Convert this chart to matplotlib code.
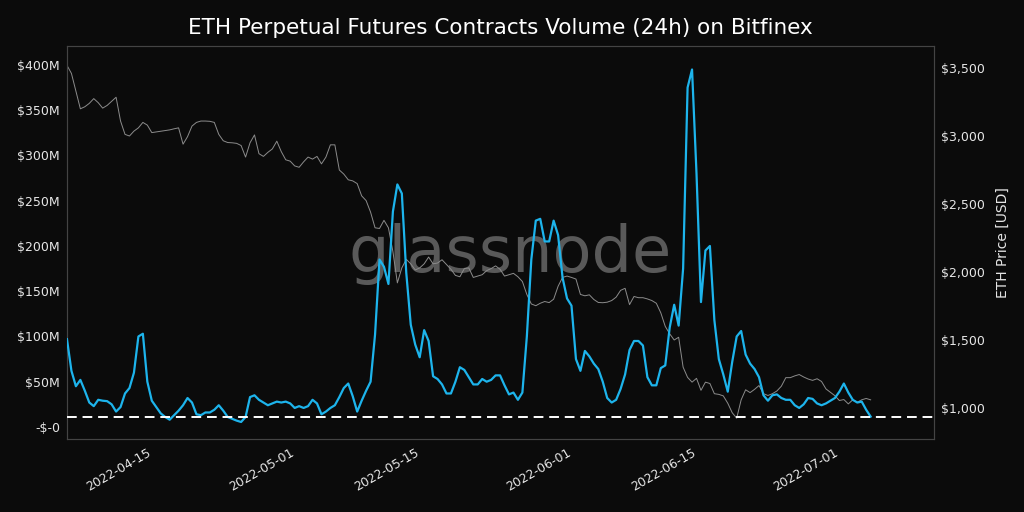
import matplotlib
matplotlib.use("Agg")
import matplotlib.pyplot as plt
import matplotlib.dates as mdates
from matplotlib.ticker import FuncFormatter, FixedLocator
import pandas as pd

# volume (USD millions) and ETH price, sampled every 12h from 2022-04-05 08:00
volume = [97, 62, 45, 52, 40, 27, 23, 30, 29, 28.5, 25, 17, 22, 37, 43, 60, 100, 103, 50, 29,
          22, 15, 11, 8, 13, 18, 24, 32, 27, 14, 13, 16, 16, 19, 24, 18, 11, 9, 7, 5.5,
          11, 33, 35, 30, 27, 24, 26, 28, 27, 28, 26, 21, 23, 21, 23, 30, 26, 14, 17, 21,
          24, 33, 43, 48, 34, 17, 29, 40, 50, 102, 185, 177, 158, 238, 268, 258, 170, 113, 91, 77,
          107, 95, 56, 53, 47, 37, 37, 50, 66, 63, 55, 47, 47, 53, 50, 52, 57, 57, 46, 36,
          38, 30, 38, 100, 185, 228, 230, 205, 205, 228, 212, 165, 142, 134, 75, 62, 84, 78, 70, 64,
          50, 32, 27, 30, 42, 58, 85, 95, 95, 90, 55, 46, 46, 65, 68, 110, 135, 112, 175, 375,
          395, 280, 138, 195, 200, 118, 75, 58, 39, 72, 100, 106, 80, 70, 64, 55, 35, 29, 35, 36,
          32, 30, 30, 24, 21, 25, 32, 31, 26, 24, 26, 29, 32, 39, 48, 38, 30, 27, 28, 19,
          11.4]
price = [3520, 3460, 3330, 3200, 3215, 3240, 3275, 3245, 3205, 3225, 3255, 3285, 3110, 3012, 3000, 3036, 3060, 3100, 3080, 3025,
         3030, 3035, 3040, 3045, 3053, 3060, 2940, 2995, 3073, 3100, 3110, 3110, 3108, 3100, 3012, 2965, 2952, 2950, 2946, 2930,
         2845, 2950, 3008, 2870, 2850, 2880, 2905, 2962, 2885, 2825, 2815, 2780, 2770, 2810, 2845, 2830, 2850, 2795, 2845, 2935,
         2935, 2750, 2720, 2678, 2670, 2650, 2560, 2525, 2440, 2325, 2320, 2380, 2325, 2150, 1920, 2030, 2093, 2060, 2015, 2030,
         2060, 2110, 2060, 2066, 2090, 2055, 2020, 1975, 1965, 2025, 2030, 1960, 1970, 1980, 2010, 2025, 2045, 2020, 1970, 1980,
         1990, 1965, 1930, 1835, 1765, 1752, 1770, 1783, 1775, 1800, 1895, 1960, 1970, 1960, 1948, 1835, 1825, 1832, 1798, 1776,
         1774, 1778, 1790, 1815, 1865, 1880, 1760, 1820, 1811, 1811, 1802, 1790, 1770, 1700, 1600, 1545, 1500, 1520, 1300, 1225,
         1190, 1218, 1130, 1190, 1180, 1105, 1100, 1089, 1035, 965, 925, 1060, 1134, 1113, 1137, 1165, 1105, 1092, 1105, 1125,
         1160, 1223, 1223, 1236, 1246, 1228, 1213, 1203, 1215, 1195, 1140, 1115, 1090, 1055, 1062, 1030, 1060, 1042, 1060, 1070,
         1060]
dates = pd.date_range("2022-04-05 08:00", periods=len(volume), freq="12h")
tick_dates = pd.to_datetime(["2022-04-15", "2022-05-01", "2022-05-15", "2022-06-01", "2022-06-15", "2022-07-01"])
vol_ticks = [0, 50, 100, 150, 200, 250, 300, 350, 400]
price_ticks = [1000, 1500, 2000, 2500, 3000, 3500]

bg = "#0b0b0b"
fig = plt.figure(figsize=(10.24, 5.12), dpi=100, facecolor=bg)
ax = fig.add_axes([0.0654, 0.1426, 0.8466, 0.7676])
ax.set_facecolor(bg)
ax2 = ax.twinx()

# price on the right axis
ax2.plot(dates, price, color="#8c8c8c", lw=0.7, zorder=2)
ax2.set_ylim(772, 3662)
ax2.yaxis.set_major_locator(FixedLocator(price_ticks))
ax2.yaxis.set_major_formatter(FuncFormatter(lambda v, p: f"${v:,.0f}"))
ax2.set_ylabel("ETH Price [USD]", color="#e6e6e6", fontsize=10, labelpad=8)

# volume on the left axis, drawn above the price
ax.set_zorder(ax2.get_zorder() + 1)
ax.patch.set_visible(False)
ax2.patch.set_visible(True)
ax2.patch.set_facecolor(bg)
ax.plot(dates, volume, color="#1db4ec", lw=1.6, zorder=3)
ax.axhline(volume[-1], color="white", lw=1.4, ls=(0, (5, 3)), zorder=4)
ax.set_ylim(-13.3, 421)
ax.yaxis.set_major_locator(FixedLocator(vol_ticks))
ax.yaxis.set_major_formatter(FuncFormatter(lambda v, p: "-$-0" if v == 0 else f"${v:.0f}M"))

ax.set_xlim(dates[0], pd.Timestamp("2022-07-11 10:00"))
ax.xaxis.set_major_locator(FixedLocator(mdates.date2num(tick_dates)))
ax.xaxis.set_major_formatter(mdates.DateFormatter("%Y-%m-%d"))
plt.setp(ax.get_xticklabels(), rotation=30, ha="right")

for a in (ax, ax2):
    a.tick_params(colors="#e6e6e6", labelsize=9, length=0, pad=5)
    for s in a.spines.values():
        s.set_color("#444444")

ax2.text(0.511, 0.425, "glassnode", transform=ax2.transAxes, ha="center", va="baseline",
         fontsize=46, color="#9a9a9a", alpha=0.55, zorder=1)

fig.text(0.489, 0.945, "ETH Perpetual Futures Contracts Volume (24h) on Bitfinex",
         ha="center", va="center", color="white", fontsize=15.5)

fig.savefig("out.png", dpi=100, facecolor=bg)
